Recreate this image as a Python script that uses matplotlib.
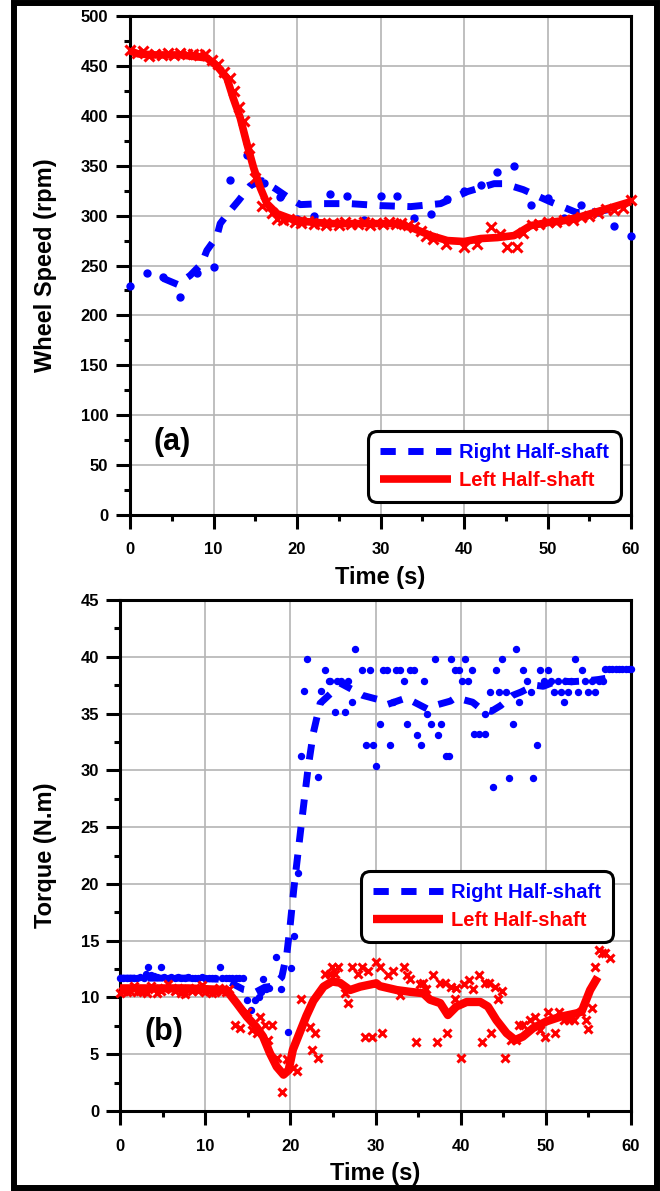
import matplotlib
matplotlib.use("Agg")
import matplotlib.pyplot as plt
from matplotlib.patches import Rectangle
from matplotlib.ticker import MultipleLocator

plt.rcParams['font.family'] = ['Liberation Sans', 'DejaVu Sans']
plt.rcParams['font.weight'] = 'bold'
plt.rcParams['axes.labelweight'] = 'bold'

BLUE = '#0000ff'
RED = '#ff0000'

# ---- panel (a): wheel speed ----
a_right_pts_t = [0, 2, 4, 6, 8, 10, 12, 14, 16, 18, 20, 22, 24, 26, 28, 30,
                 32, 34, 36, 38, 40, 42, 44, 46, 48, 50, 52, 54, 56, 58, 60]
a_right_pts = [229, 242, 238, 218, 242, 248, 336, 361, 333, 319, 297, 300, 322, 320, 296, 320,
               320, 298, 302, 317, 325, 331, 344, 350, 311, 318, 298, 311, 304, 290, 280]

a_right_fit_t = [4, 5.7, 7.2, 8.6, 9.2, 10.4, 10.8, 12, 13, 14.4, 15.8, 17.4, 18.8, 20.4,
                 23, 26.3, 30, 33.6, 37.2, 40.4, 43.6, 44.8, 47.1, 50.3, 53.5, 56, 58]
a_right_fit = [237, 231, 240, 252, 265, 279, 292, 305, 315, 330, 335, 327, 319, 311,
               312, 312, 310, 309, 312, 324, 332, 332, 326, 314, 303, 304, 307]

a_left_pts_t = [0, 0.8, 1.5, 2.3, 3.0, 3.8, 4.6, 5.3, 6.0, 6.8, 7.6, 8.3, 9.0, 9.8, 10.5,
                11.3, 12.0, 12.5, 13.0, 13.6, 14.2, 15.0, 15.8, 16.3, 17.0, 17.6, 18.3,
                19.0, 19.8, 20.5, 21.3, 22.0, 22.8, 23.5, 24.3, 25.0, 25.8, 26.5, 27.3,
                28.0, 28.8, 29.5, 30.3, 31.0, 31.8, 32.5, 33.3, 34.0, 34.8, 35.5, 36.3,
                37.8, 40.0, 41.6, 43.2, 44.3, 45.1, 46.3, 47.1, 48.2, 49.0, 50.0, 51.0,
                52.0, 53.0, 54.0, 55.0, 56.0, 57.0, 58.0, 59.0, 60.0]
a_left_pts = [466, 463, 465, 460, 462, 461, 463, 461, 463, 462, 462, 461, 462, 456, 452,
              444, 438, 425, 409, 395, 368, 338, 310, 314, 303, 297, 296,
              297, 294, 293, 295, 292, 293, 291, 293, 291, 294, 292, 292,
              294, 291, 293, 292, 294, 292, 293, 291, 289, 285, 280, 277,
              272, 269, 272, 289, 282, 269, 269, 283, 291, 292, 294, 294,
              296, 296, 299, 300, 303, 307, 306, 308, 316]

a_left_fit_t = [0, 1, 3, 6, 9.2, 10.4, 11.6, 12.35, 13.2, 14, 14.8, 15.6, 16.4, 17.6, 19.2,
                21, 24, 28, 32, 34, 36, 38, 40, 42, 44, 46, 48, 50, 52, 54, 56, 58, 60]
a_left_fit = [465, 462, 461, 461, 458, 450, 438, 418, 398, 372, 348, 328, 312, 302, 297,
              294, 292, 292, 292, 287, 280, 275, 274, 277, 278, 280, 290, 293, 295, 299, 304, 309, 314]

# ---- panel (b): torque ----
b_right_pts_t = [0.0, 0.4, 0.8, 1.2, 1.6, 2.0, 2.4, 2.8, 3.0, 3.3, 3.6, 4.0, 4.4, 4.8, 5.2,
                 5.6, 6.0, 6.4, 6.8, 7.2, 7.6, 8.0, 8.4, 8.8, 9.2, 9.6, 10.0, 10.4, 10.8,
                 11.2, 11.7, 12.0, 12.4, 12.8, 13.2, 13.6, 14.0, 14.4,
                 14.9, 15.4, 15.9, 16.3, 16.6, 16.8, 17.1, 17.5, 18.3, 18.9, 19.7, 20.1,
                 20.4, 20.9, 21.25, 21.6, 22.0, 23.2, 23.6, 24.1, 24.5,
                 24.65, 25.2, 25.45, 26.0, 26.4, 26.8, 27.2, 27.6, 28.4, 28.9, 29.3, 29.7,
                 30.1, 30.5, 30.9, 31.3, 31.7, 32.1, 32.4, 32.9, 33.3, 33.7, 34.1, 34.5,
                 34.9, 35.3, 35.7, 36.1, 36.5, 36.95, 37.3, 37.7, 38.25, 38.6, 38.9, 39.35,
                 39.75, 40.1, 40.5, 40.9, 41.3, 41.6, 42.2, 42.8, 42.9, 43.4, 43.8, 44.2,
                 44.55, 44.9, 45.3, 45.7, 46.1, 46.5, 46.9, 47.3, 47.8, 48.2, 48.5, 48.95,
                 49.35, 49.8, 50.2, 50.6, 51.0, 51.4, 51.75, 52.15, 52.2, 52.55, 53.0, 53.4,
                 53.8, 54.2, 54.6, 55.0, 55.4, 55.8, 56.2, 56.7, 57.0, 57.4, 57.8, 58.2,
                 58.6, 59.0, 59.4, 59.8, 60.0]
b_right_pts = [11.7, 11.7, 11.7, 11.7, 11.7, 11.7, 11.8, 11.7, 12.1, 12.7, 12.0, 11.9, 11.8, 12.7, 11.8,
               11.7, 11.8, 11.7, 11.8, 11.7, 11.7, 11.8, 11.7, 11.7, 11.7, 11.8, 11.7, 11.7, 11.7,
               11.7, 12.7, 11.7, 11.7, 11.7, 11.7, 11.7, 11.7, 11.7,
               9.8, 8.9, 9.8, 10.0, 10.5, 11.6, 10.7, 10.8, 13.6, 10.7, 7.0, 12.6,
               15.4, 21.0, 31.3, 37.0, 39.8, 29.4, 37.0, 38.8, 37.9,
               37.9, 35.1, 37.9, 37.9, 35.1, 37.9, 36.0, 40.7, 38.8, 32.2, 38.8, 32.2,
               30.4, 34.1, 38.8, 38.8, 32.2, 36.0, 38.8, 38.8, 37.9, 34.1, 38.8, 38.8,
               33.1, 32.2, 37.9, 35.0, 34.1, 39.8, 33.1, 34.1, 31.3, 31.3, 39.8, 38.8,
               38.8, 37.9, 39.8, 37.9, 38.8, 33.2, 33.2, 33.2, 35.0, 36.9, 28.5, 38.8,
               36.9, 39.8, 36.9, 29.3, 34.1, 40.7, 36.0, 38.8, 37.9, 36.9, 29.3, 32.2,
               38.8, 37.9, 38.8, 37.9, 36.9, 37.9, 36.9, 36.0, 37.9, 36.9, 37.9, 39.8,
               36.9, 38.8, 37.9, 36.9, 37.9, 36.9, 37.9, 37.9, 38.9, 38.9, 38.9, 38.9,
               38.9, 38.9, 38.9, 38.9, 38.9]

b_right_fit_t = [0, 4, 8, 12, 13, 14.5, 16, 17, 18, 19, 19.6, 20.0, 20.4, 21.3, 22.1, 22.7,
                 23.5, 24.5, 25.2, 25.8, 27.8, 28.5, 30.5, 31.4, 33.7, 34.3, 36.1, 36.9,
                 38.8, 39.4, 41.4, 42.4, 43.6, 44.7, 46.1, 47.1, 48.7, 49.7, 51.4, 53,
                 55, 56.2, 57]
b_right_fit = [11.7, 11.7, 11.7, 11.6, 11.3, 10.7, 10.5, 10.9, 11.0, 11.8, 13.9, 16.5, 19.5, 25.3, 30.3, 33.3,
               35.9, 36.6, 37.1, 37.7, 36.9, 36.6, 36.2, 35.8, 36.4, 36.1, 35.4, 35.7,
               36.1, 36.4, 36.0, 35.4, 35.2, 35.7, 36.6, 36.9, 37.5, 37.4, 37.9, 37.8,
               37.9, 38.0, 38.1]

b_left_pts_t = [0.0, 0.4, 0.8, 1.2, 1.7, 2.0, 2.4, 2.8, 3.2, 3.6, 4.0, 4.4, 4.8, 5.2, 5.6,
                6.0, 6.4, 6.8, 7.2, 7.6, 8.0, 8.4, 8.8, 9.2, 9.6, 10.0, 10.4, 10.8, 11.2,
                11.6, 12.0, 12.4, 12.8,
                13.5, 14.1, 14.9, 15.5, 16.05, 16.4, 17.0, 17.4, 17.8, 18.4, 19.0, 19.6,
                20.35, 20.8, 21.3, 22.3, 22.5, 22.9, 23.3,
                24.1, 24.7, 24.9, 25.3, 25.6, 26.4, 26.8, 27.2, 28.0, 28.4, 28.8, 29.1,
                29.55, 30.1, 30.5, 30.8, 31.5, 32.1, 32.9, 33.3, 33.7, 34.0, 34.8, 35.2,
                35.6, 35.9, 36.8, 37.2, 37.6, 38.2, 38.35, 38.9, 39.3, 39.5, 40.05, 40.4,
                41.0, 41.4, 42.1, 42.5, 42.9, 43.3, 43.6, 44.0, 44.4, 44.8, 45.2, 45.9,
                46.5, 46.9, 47.3, 48.1, 48.7, 49.3, 49.9, 50.3, 51.1, 51.5, 52.1, 52.7,
                53.3, 54.1, 54.7, 55.0, 55.4, 55.8, 56.2, 56.6, 57.0, 57.5]
b_left_pts = [10.4, 10.6, 10.5, 10.6, 11.0, 10.5, 10.6, 10.6, 10.4, 11.0, 10.7, 10.4, 10.6, 10.8, 11.2,
              10.7, 10.6, 10.8, 10.4, 10.3, 10.7, 10.6, 10.8, 10.6, 11.1, 10.5, 10.6, 10.4, 10.5,
              10.8, 10.6, 10.5, 10.7,
              7.6, 7.3, 8.75, 7.1, 6.85, 8.3, 7.6, 6.25, 7.6, 4.65, 1.7, 4.6,
              3.75, 3.5, 9.9, 7.4, 5.4, 6.85, 4.65,
              12.1, 12.1, 12.7, 12.1, 12.7, 10.4, 9.5, 12.7, 12.1, 12.7, 6.5, 12.3,
              6.5, 13.15, 12.7, 6.9, 12.0, 12.3, 10.2, 12.7, 12.0, 11.6, 6.1, 11.2,
              11.3, 10.7, 12.0, 6.1, 11.3, 11.3, 6.9, 10.9, 9.9, 10.8, 4.65, 11.2,
              11.5, 10.7, 12.0, 6.1, 11.3, 11.3, 6.85, 10.9, 9.9, 10.6, 4.65, 6.25,
              6.25, 7.6, 7.6, 8.0, 8.3, 7.1, 6.55, 8.75, 6.85, 8.75, 8.0, 8.0,
              8.0, 8.75, 8.0, 7.2, 9.05, 12.7, 14.2, 13.9, 13.9, 13.5]

b_left_fit_t = [0, 4, 8, 12.5, 13.7, 14.9, 16.0, 16.8, 17.6, 18.4, 19.2, 19.8, 20.3, 21.1,
                21.9, 22.7, 23.9, 24.9, 25.8, 27.0, 28.2, 30.1, 30.5, 32.5, 34.0, 35.6,
                36.4, 37.6, 38.5, 39.5, 40.7, 42.3, 43.2, 44.2, 45.4, 46.4, 47.3, 48.5,
                50.1, 51.7, 53.6, 54.2, 55.2, 56.1]
b_left_fit = [10.8, 10.8, 10.8, 10.65, 9.5, 8.3, 7.4, 6.55, 5.1, 3.9, 3.2, 3.6, 5.4, 6.9,
              8.4, 9.7, 10.95, 11.4, 11.3, 10.65, 10.95, 11.25, 11.0, 10.65, 10.5, 10.37,
              9.8, 9.5, 8.45, 9.2, 9.6, 9.6, 9.2, 8.0, 6.85, 6.25, 6.55, 7.3,
              7.9, 8.3, 8.6, 8.75, 10.65, 11.8]

legend_labels = ['Right Half-shaft', 'Left Half-shaft']

W, H = 660, 1191
fig = plt.figure(figsize=(W / 100, H / 100), dpi=100)
ax1 = fig.add_axes([130 / W, 1 - 515 / H, 501 / W, 499 / H])
ax2 = fig.add_axes([120 / W, 1 - 1111 / H, 511 / W, 511 / H])

# outer frame round the whole figure
fig.patches.append(Rectangle((14 / W, 3 / H), 643 / W, 1185 / H, transform=fig.transFigure,
                             fill=False, lw=4.3, ec='black'))


def style(ax, ymax, ymaj, ymin, xpad, ypad):
    ax.set_xlim(0, 60)
    ax.set_ylim(0, ymax)
    ax.xaxis.set_major_locator(MultipleLocator(10))
    ax.xaxis.set_minor_locator(MultipleLocator(5))
    ax.yaxis.set_major_locator(MultipleLocator(ymaj))
    ax.yaxis.set_minor_locator(MultipleLocator(ymin))
    ax.grid(True, which='major', color='#b4b4b4', lw=1.2)
    ax.set_axisbelow(True)
    for s in ax.spines.values():
        s.set_linewidth(2.2)
    ax.tick_params(which='major', direction='out', length=10, width=2.2, labelsize=12)
    ax.tick_params(which='minor', direction='out', length=4.3, width=2.2)
    ax.tick_params(axis='x', which='major', pad=xpad)
    ax.tick_params(axis='y', which='major', pad=ypad)


def add_legend(ax, anchor):
    leg = ax.legend(loc='lower right', bbox_to_anchor=anchor, borderaxespad=0, fontsize=14.5,
                    handlelength=3.5, handletextpad=0.4, borderpad=0.6, labelspacing=0.45,
                    fancybox=True, framealpha=1, edgecolor='black')
    leg.get_frame().set_linewidth(2.2)
    leg.get_frame().set_boxstyle('round', pad=0, rounding_size=0.45)
    for txt, col in zip(leg.get_texts(), [BLUE, RED]):
        txt.set_color(col)
    return leg


dash = (2.2, 1.8)

# panel (a)
style(ax1, 500, 50, 25, 9.4, 5.8)
ax1.plot(a_right_pts_t, a_right_pts, 'o', color=BLUE, ms=5, clip_on=False, zorder=3)
ax1.plot(a_right_fit_t, a_right_fit, color=BLUE, lw=5, dashes=dash, label=legend_labels[0], zorder=3)
ax1.plot(a_left_pts_t, a_left_pts, 'x', color=RED, ms=6.5, mew=2.2, clip_on=False, zorder=4)
ax1.plot(a_left_fit_t, a_left_fit, color=RED, lw=5.5, solid_capstyle='butt', label=legend_labels[1],
         clip_on=False, zorder=4)
ax1.text(5, 73, '(a)', fontsize=22, ha='center', va='center')
ax1.set_xlabel('Time (s)', fontsize=17)
ax1.set_ylabel('Wheel Speed (rpm)', fontsize=17)
ax1.xaxis.set_label_coords(0.5, -0.102)
ax1.yaxis.set_label_coords(-0.146, 0.5)
add_legend(ax1, (0.98, 0.026))

# panel (b)
style(ax2, 45, 5, 2.5, 10, 5)
ax2.plot(b_right_pts_t, b_right_pts, 'o', color=BLUE, ms=4.3, clip_on=False, zorder=3)
ax2.plot(b_right_fit_t, b_right_fit, color=BLUE, lw=5, dashes=dash, label=legend_labels[0], zorder=3)
ax2.plot(b_left_pts_t, b_left_pts, 'x', color=RED, ms=6, mew=2.2, clip_on=False, zorder=4)
ax2.plot(b_left_fit_t, b_left_fit, color=RED, lw=6, solid_capstyle='butt', label=legend_labels[1],
         clip_on=False, zorder=4)
ax2.text(5.2, 7, '(b)', fontsize=22, ha='center', va='center')
ax2.set_xlabel('Time (s)', fontsize=17)
ax2.set_ylabel('Torque (N.m)', fontsize=17)
ax2.xaxis.set_label_coords(0.5, -0.1)
ax2.yaxis.set_label_coords(-0.123, 0.5)
add_legend(ax2, (0.965, 0.331))

fig.savefig('out.png', dpi=100)
